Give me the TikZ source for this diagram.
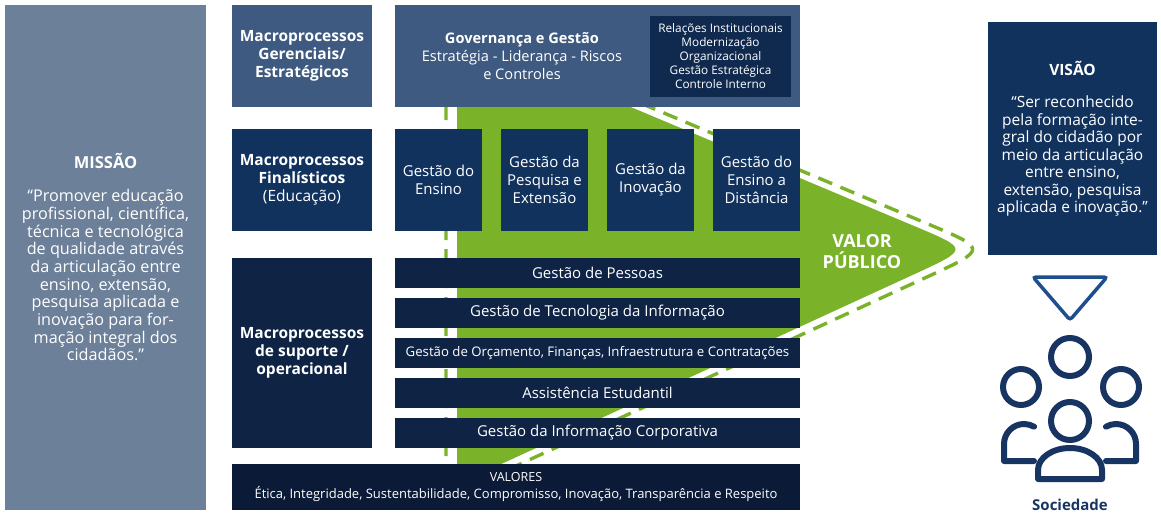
\documentclass[tikz,border=0pt]{standalone}
\usepackage{fontspec}
\setmainfont{Open Sans}
\usetikzlibrary{positioning}
\newcommand{\fsz}[2]{\fontsize{#1}{#2}\selectfont}
\definecolor{misbg}{RGB}{108,128,153}
\definecolor{gerbg}{RGB}{62,90,128}
\definecolor{govin}{RGB}{16,42,79}
\definecolor{finbg}{RGB}{18,50,94}
\definecolor{supbg}{RGB}{15,36,69}
\definecolor{valbg}{RGB}{11,26,54}
\definecolor{leaf}{RGB}{122,179,42}
\definecolor{icon}{RGB}{23,52,98}
\definecolor{trib}{RGB}{31,78,143}
\begin{document}
\begin{tikzpicture}[x=1pt,y=-1pt,
	every node/.style={inner sep=0pt,outer sep=0pt,text=white,align=center},
	blk/.style={rectangle,anchor=north west,fill=#1},
	proc/.style={rectangle,fill=finbg,minimum width=87pt,minimum height=102pt,font=\fsz{15}{18}},
	bar/.style={rectangle,fill=supbg,minimum width=405pt,minimum height=30pt,font=\fsz{15}{18}},
	macro/.style={font=\fsz{15.5}{18}\bfseries},
	person/.style={draw=icon,line width=6pt,line cap=round,line join=round}]
\useasboundingbox (0,0) rectangle (1161,519);
% valor publico
\fill[leaf] (457,100) -- (614,100) -- (914.6,226.2) .. controls (969,249) .. (915.4,273.7) -- (466.5,480) -- (457,480) -- cycle;
\draw[leaf,line width=3.4pt,dash pattern=on 15pt off 9pt] (446,480) -- (446,100) -- (633,100) -- (926.8,223.5) .. controls (987.7,249) .. (927.8,276.6) -- (485.4,480);
\node[font=\fsz{18}{21}\bfseries] (valor) at (862,252) {VALOR\\PÚBLICO};
% missao
\node[blk=misbg,minimum width=201pt,minimum height=505pt,font=\fsz{16.2}{17.7}] (missao) at (5,5)
	{{\fsz{16.5}{18}\bfseries MISSÃO}\\[15pt]“Promover educação\\profissional, científica,\\técnica e tecnológica\\de qualidade através\\da articulação entre\\ensino, extensão,\\pesquisa aplicada e\\inovação para for-\\mação integral dos\\cidadãos.”};
% macroprocessos
\node[blk=gerbg,minimum width=140pt,minimum height=102pt,macro] (ger) at (232,5) {Macroprocessos\\Gerenciais/\\Estratégicos};
\node[blk=finbg,minimum width=140pt,minimum height=102pt,macro] (fin) at (232,129) {Macroprocessos\\Finalísticos\\\mdseries(Educação)};
\node[blk=supbg,minimum width=140pt,minimum height=190pt,macro] (sup) at (232,258) {Macroprocessos\\de suporte /\\operacional};
% governanca
\node[blk=gerbg,minimum width=405pt,minimum height=102pt] (gov) at (395,5) {};
\node[font=\fsz{14.6}{18}] (govtxt) at (522,56) {\textbf{Governança e Gestão}\\Estratégia - Liderança - Riscos\\e Controles};
\node[blk=govin,minimum width=141pt,minimum height=81pt,font=\fsz{11.8}{14}] (govin) at (650,16)
	{Relações Institucionais\\Modernização\\Organizacional\\Gestão Estratégica\\Controle Interno};
% finalisticos
\node[proc,anchor=north west] (ensino) at (395,129) {Gestão do\\Ensino};
\node[proc,right=19pt of ensino] (pesq) {Gestão da\\Pesquisa e\\Extensão};
\node[proc,right=19pt of pesq] (inov) {Gestão da\\Inovação};
\node[proc,right=19pt of inov] (ead) {Gestão do\\Ensino a\\Distância};
% suporte
\node[bar,anchor=north west] (pessoas) at (395,258) {Gestão de Pessoas};
\node[bar,below=10pt of pessoas] (ti) {Gestão de Tecnologia da Informação};
\node[bar,below=10pt of ti,font=\fsz{13.2}{16}] (orc) {Gestão de Orçamento, Finanças, Infraestrutura e Contratações};
\node[bar,below=10pt of orc] (assist) {Assistência Estudantil};
\node[bar,below=10pt of assist] (info) {Gestão da Informação Corporativa};
% valores
\node[blk=valbg,minimum width=568pt,minimum height=46pt,font=\fsz{13}{16.5}] (valores) at (232,464)
	{{\fsz{12.5}{15}VALORES}\\Ética, Integridade, Sustentabilidade, Compromisso, Inovação, Transparência e Respeito};
% visao
\node[blk=finbg,minimum width=169pt,minimum height=233pt,font=\fsz{15.5}{17.5}] (visao) at (988,22)
	{\textbf{VISÃO}\\[15pt]“Ser reconhecido\\pela formação inte-\\gral do cidadão por\\meio da articulação\\entre ensino,\\extensão, pesquisa\\aplicada e inovação.”};
\draw[trib,line width=3.5pt,rounded corners=3pt] (1033,277) -- (1107,277) -- (1070,320) -- cycle;
% sociedade
\draw[person] (1070,357) circle[radius=19];
\draw[person] (1021,387) circle[radius=18];
\draw[person] (1121,387) circle[radius=18];
\draw[person] (1034,461) -- (1004,461) -- (1004,444) arc[start angle=180,end angle=300,radius=20];
\draw[person] (1106,461) -- (1136,461) -- (1136,444) arc[start angle=0,end angle=-120,radius=20];
\draw[person] (1070,421) circle[radius=19];
\draw[person] (1038,479) -- (1038,470) arc[start angle=180,end angle=360,x radius=32,y radius=22] -- (1102,479) -- cycle;
\node[text=icon,font=\fsz{15}{18}\bfseries] (soc) at (1070,505) {Sociedade};
\end{tikzpicture}
\end{document}
